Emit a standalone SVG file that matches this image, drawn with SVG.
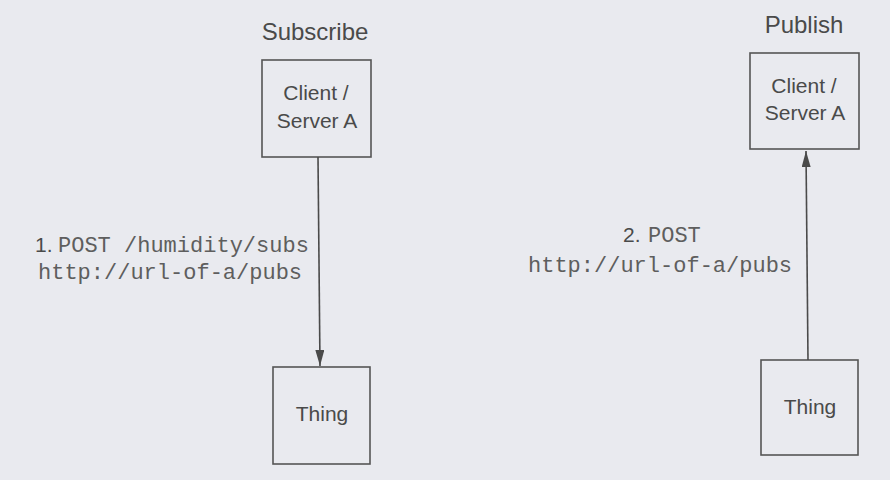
<svg xmlns="http://www.w3.org/2000/svg" width="890" height="480" viewBox="0 0 890 480">
  <defs>
    <marker id="arr" viewBox="0 0 16 9" refX="16" refY="4.5" markerWidth="16" markerHeight="9" markerUnits="userSpaceOnUse" orient="auto">
      <path d="M0,0 L16,4.5 L0,9 Z" fill="#4a4a4a"/>
    </marker>
    <style>
      .box { fill: none; stroke: #555; stroke-width: 1.6; }
      .lbl { font-family: "Liberation Sans", Arial, sans-serif; font-size: 21px; fill: #4a4a4a; text-anchor: middle; }
      .title { font-family: "Liberation Sans", Arial, sans-serif; font-size: 24px; fill: #4a4a4a; text-anchor: middle; }
      .num { font-family: "Liberation Sans", Arial, sans-serif; font-size: 21px; fill: #4a4a4a; }
      .mono { font-family: "Liberation Mono", "Courier New", monospace; font-size: 22px; fill: #5e5e5e; }
      .conn { stroke: #4a4a4a; stroke-width: 1.6; fill: none; }
    </style>
  </defs>
  <rect width="890" height="480" fill="#e9eaef"/>

  <text class="title" x="315" y="40">Subscribe</text>
  <text class="title" x="804" y="33">Publish</text>

  <g id="clientA-sub">
    <rect class="box" x="262" y="60" width="109" height="97"/>
    <text class="lbl" x="316" y="100">Client /</text>
    <text class="lbl" x="317" y="128">Server A</text>
  </g>
  <g id="thing-sub">
    <rect class="box" x="273" y="367" width="97" height="97"/>
    <text class="lbl" x="322" y="421">Thing</text>
  </g>
  <g id="clientA-pub">
    <rect class="box" x="750" y="53" width="109" height="96"/>
    <text class="lbl" x="804" y="93">Client /</text>
    <text class="lbl" x="805" y="120">Server A</text>
  </g>
  <g id="thing-pub">
    <rect class="box" x="761" y="360" width="97" height="95"/>
    <text class="lbl" x="810" y="414">Thing</text>
  </g>

  <g id="connectors">
    <path class="conn" d="M318,157 L320,366" marker-end="url(#arr)"/>
    <path class="conn" d="M808,360 L806,151" marker-end="url(#arr)"/>
  </g>

  <g id="labels">
    <text x="35" y="252"><tspan class="num">1.</tspan><tspan class="mono" x="58">POST /humidity/subs</tspan></text>
    <text class="mono" x="38" y="279">http://url-of-a/pubs</text>
    <text x="623" y="242"><tspan class="num">2.</tspan><tspan class="mono" x="648">POST</tspan></text>
    <text class="mono" x="528" y="272">http://url-of-a/pubs</text>
  </g>
</svg>
